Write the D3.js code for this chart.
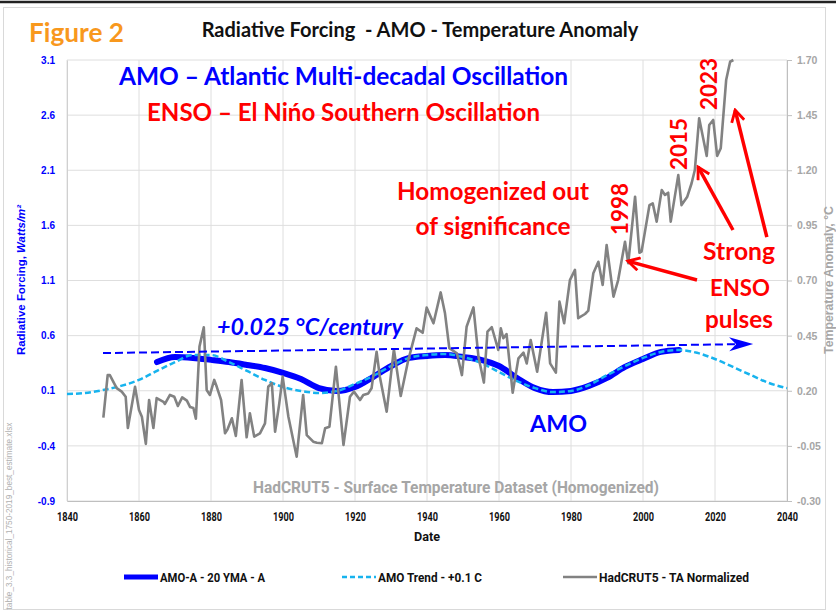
<!DOCTYPE html>
<html>
<head>
<meta charset="utf-8">
<script src="https://cdn.jsdelivr.net/npm/d3@7"></script>
<style>
body { margin: 0; background: #fff; }
svg { display: block; font-family: Lato, "Open Sans", sans-serif; }
</style>
</head>
<body>
<svg id="chart"></svg>
<script>
// ---- data ----
var xTicks = [1840, 1860, 1880, 1900, 1920, 1940, 1960, 1980, 2000, 2020, 2040];
var leftTicks = [-0.9, -0.4, 0.1, 0.6, 1.1, 1.6, 2.1, 2.6, 3.1];
var rightTicks = [-0.30, -0.05, 0.20, 0.45, 0.70, 0.95, 1.20, 1.45, 1.70];

// AMO-A - 20 YMA - A (°C, right axis)
var amoYears = [1865, 1870, 1875, 1880, 1885, 1890, 1895, 1900, 1905, 1910,
                1915, 1920, 1925, 1930, 1935, 1940, 1945, 1950, 1955, 1960,
                1965, 1970, 1975, 1980, 1985, 1990, 1995, 2000, 2005, 2010];
var amoValues = [0.330, 0.353, 0.349, 0.340, 0.330, 0.317, 0.303, 0.281, 0.253, 0.212,
                 0.199, 0.217, 0.262, 0.312, 0.349, 0.358, 0.362, 0.353, 0.340, 0.312,
                 0.258, 0.212, 0.194, 0.199, 0.222, 0.258, 0.308, 0.344, 0.376, 0.385];

// AMO Trend - +0.1 C
var trendYears = [1840, 1845, 1850, 1855, 1860, 1865, 1870, 1875, 1880, 1885,
                  1890, 1895, 1900, 1905, 1910, 1915, 1920, 1925, 1930, 1935,
                  1940, 1945, 1950, 1955, 1960, 1965, 1970, 1975, 1980, 1985,
                  1990, 1995, 2000, 2005, 2010, 2015, 2020, 2025, 2030, 2035, 2040];
var trendValues = [0.185, 0.190, 0.203, 0.222, 0.249, 0.290, 0.330, 0.362, 0.362, 0.330,
                   0.290, 0.249, 0.217, 0.199, 0.190, 0.199, 0.231, 0.267, 0.312, 0.349,
                   0.362, 0.367, 0.353, 0.326, 0.285, 0.244, 0.212, 0.194, 0.199, 0.226,
                   0.271, 0.312, 0.349, 0.376, 0.385, 0.372, 0.344, 0.308, 0.271, 0.235, 0.212];

// HadCRUT5 - TA Normalized
var hadYears = [1850.1, 1851.3, 1851.9, 1853.8, 1855.2, 1856.3, 1856.9, 1858.9, 1860.0, 1860.8,
                1861.9, 1862.8, 1864.0, 1864.9, 1866.8, 1867.2, 1868.6, 1869.8, 1870.8, 1872.0,
                1873.3, 1874.2, 1875.1, 1875.8, 1876.8, 1878.0, 1878.8, 1879.7, 1880.9, 1881.6,
                1882.8, 1883.9, 1884.6, 1885.8, 1886.9, 1888.5, 1889.9, 1890.8, 1892.0, 1893.6,
                1895.0, 1895.9, 1896.9, 1897.8, 1898.9, 1899.9, 1901.5, 1903.8, 1905.6, 1906.6,
                1908.4, 1909.4, 1910.8, 1911.7, 1912.9, 1914.7, 1916.8, 1918.6, 1919.7, 1921.4,
                1922.3, 1923.7, 1924.6, 1926.0, 1926.9, 1928.8, 1930.8, 1932.7, 1934.8, 1937.1,
                1938.8, 1939.9, 1941.8, 1943.8, 1945.0, 1946.2, 1948.3, 1949.7, 1951.0, 1952.9,
                1954.3, 1955.8, 1956.8, 1958.0, 1959.8, 1960.5, 1961.2, 1962.1, 1963.8, 1965.4,
                1966.8, 1967.7, 1968.8, 1970.6, 1973.1, 1974.2, 1975.8, 1976.8, 1978.1, 1979.7,
                1981.1, 1982.0, 1983.9, 1984.8, 1986.2, 1987.6, 1988.8, 1989.9, 1991.8, 1993.1,
                1995.0, 1995.9, 1997.8, 1999.0, 1999.6, 2001.8, 2002.7, 2003.8, 2005.2, 2006.1,
                2007.0, 2007.7, 2009.8, 2010.7, 2012.3, 2013.5, 2014.4, 2015.6, 2017.7, 2018.4,
                2019.5, 2020.6, 2021.6, 2023.1, 2024.2, 2025.1];
var hadValues = [0.078, 0.271, 0.271, 0.212, 0.196, 0.173, 0.031, 0.218, 0.113, 0.082,
                 -0.041, 0.158, 0.031, 0.167, 0.150, 0.140, 0.181, 0.173, 0.131, 0.170,
                 0.155, 0.126, 0.122, 0.073, 0.400, 0.488, 0.203, 0.181, 0.249, 0.218,
                 0.158, 0.007, 0.025, 0.075, -0.005, 0.249, -0.011, 0.098, -0.008, 0.007,
                 0.052, 0.218, 0.234, 0.014, 0.135, 0.264, 0.082, -0.099, 0.181, -0.001,
                 -0.031, -0.036, -0.038, 0.030, 0.037, 0.309, -0.046, 0.173, 0.196, 0.158,
                 0.181, 0.188, 0.211, 0.377, 0.264, 0.105, 0.388, 0.176, 0.339, 0.483,
                 0.463, 0.577, 0.506, 0.646, 0.551, 0.393, 0.370, 0.271, 0.490, 0.578,
                 0.354, 0.237, 0.468, 0.488, 0.385, 0.483, 0.438, 0.457, 0.191, 0.347,
                 0.373, 0.324, 0.430, 0.286, 0.554, 0.324, 0.282, 0.604, 0.506, 0.702,
                 0.748, 0.529, 0.548, 0.563, 0.733, 0.785, 0.680, 0.861, 0.627, 0.702,
                 0.876, 0.778, 1.080, 0.826, 0.831, 1.042, 1.050, 0.967, 1.110, 1.088,
                 1.098, 0.967, 1.178, 1.042, 1.080, 1.141, 1.201, 1.436, 1.265, 1.405,
                 1.428, 1.265, 1.300, 1.609, 1.692, 1.700];

// +0.025 °C/century trend arrow
var slopeYears = [1850, 2030.6];
var slopeValues = [0.371, 0.412];

// ENSO arrows: [fromYear, fromTA, toYear, toTA]
var ensoArrows = [[2015.0, 0.702, 1995.8, 0.788],
                  [2025.0, 0.929, 2015.3, 1.215],
                  [2034.4, 0.897, 2025.6, 1.473]];

var legendNames = ["AMO-A - 20 YMA - A", "AMO Trend - +0.1 C", "HadCRUT5 - TA Normalized"];

// ---- layout ----
var width = 836, height = 613;
var margin = {top: 60, right: 49, bottom: 112, left: 67};

var svg = d3.select("#chart").attr("width", width).attr("height", height);

var x = d3.scaleLinear().domain([1840, 2040]).range([margin.left, width - margin.right]);
var yL = d3.scaleLinear().domain([-0.9, 3.1]).range([height - margin.bottom, margin.top]);
var yR = d3.scaleLinear().domain([-0.30, 1.70]).range([height - margin.bottom, margin.top]);

var blue = "#0000ff", lightBlue = "#17b3ee", gray = "#828282", red = "#ff0000";
var narrow = "Liberation Sans Narrow, Roboto, sans-serif";

// scale a text's font so it spans w pixels
function fit(sel, w) {
  sel.each(function() {
    var t = d3.select(this);
    var fs = parseFloat(t.attr("font-size"));
    var len = this.getComputedTextLength();
    if (len > 0) t.attr("font-size", (fs * w / len).toFixed(2));
  });
  return sel;
}
// squeeze glyphs to w pixels, keeping the height (narrow look)
function squeeze(sel, w) {
  sel.attr("textLength", w).attr("lengthAdjust", "spacingAndGlyphs");
  return sel;
}

// frame
svg.append("rect").attr("x", 0).attr("y", 0).attr("width", width).attr("height", height).attr("fill", "#fff");
svg.append("rect").attr("x", 3.5).attr("y", 7.5).attr("width", 822).attr("height", 602)
   .attr("fill", "none").attr("stroke", "#d9d9d9");
svg.append("line").attr("x1", 0).attr("x2", width).attr("y1", 2).attr("y2", 2)
   .attr("stroke", "#222").attr("stroke-width", 2.5);

// grid
var grid = svg.append("g");
grid.selectAll(".h").data(leftTicks).enter().append("line")
    .attr("x1", x(1840)).attr("x2", x(2040))
    .attr("y1", function(d) { return yL(d); }).attr("y2", function(d) { return yL(d); })
    .attr("stroke", "#dedede");
grid.selectAll(".v").data(xTicks).enter().append("line")
    .attr("x1", function(d) { return x(d); }).attr("x2", function(d) { return x(d); })
    .attr("y1", yL(3.1)).attr("y2", yL(-0.9))
    .attr("stroke", "#dedede");

// axes
var axL = svg.append("g").attr("transform", "translate(" + margin.left + ",0)")
    .call(d3.axisLeft(yL).tickValues(leftTicks).tickSize(0).tickPadding(12)
          .tickFormat(function(d) { return d.toFixed(1); }));
axL.select(".domain").attr("stroke", "#d0d0d0");
axL.selectAll("text").attr("fill", blue).attr("font-weight", "bold")
   .attr("font-size", 10).attr("font-family", "Liberation Sans, Arial, sans-serif");

var axR = svg.append("g").attr("transform", "translate(" + (width - margin.right) + ",0)")
    .call(d3.axisRight(yR).tickValues(rightTicks).tickSize(5).tickPadding(5)
          .tickFormat(function(d) { return d.toFixed(2); }));
axR.select(".domain").attr("stroke", "#bfbfbf");
axR.selectAll("line").attr("stroke", "#bfbfbf");
axR.selectAll("text").attr("fill", "#a6a6a6").attr("font-weight", "bold")
   .attr("font-size", 10.5).attr("font-family", "Liberation Sans, Arial, sans-serif");

var axB = svg.append("g").attr("transform", "translate(0," + (height - margin.bottom) + ")")
    .call(d3.axisBottom(x).tickValues(xTicks).tickSize(0).tickPadding(11)
          .tickFormat(function(d) { return d; }));
axB.select(".domain").attr("stroke", "#bfbfbf");
axB.selectAll("text").attr("fill", "#111").attr("font-weight", "bold")
   .attr("font-size", 12).attr("font-family", narrow);
squeeze(axB.selectAll("text"), 21);

// series
var amoLine = d3.line().curve(d3.curveMonotoneX)
    .x(function(d, i) { return x(amoYears[i]); }).y(function(d) { return yR(d); });
svg.append("path").datum(amoValues).attr("d", amoLine)
   .attr("fill", "none").attr("stroke", blue).attr("stroke-width", 6)
   .attr("stroke-linecap", "round").attr("stroke-linejoin", "round");

var trendLine = d3.line().curve(d3.curveMonotoneX)
    .x(function(d, i) { return x(trendYears[i]); }).y(function(d) { return yR(d); });
svg.append("path").datum(trendValues).attr("d", trendLine)
   .attr("fill", "none").attr("stroke", lightBlue).attr("stroke-width", 2.5)
   .attr("stroke-dasharray", "6,3");

var hadLine = d3.line()
    .x(function(d, i) { return x(hadYears[i]); }).y(function(d) { return yR(d); });
svg.append("path").datum(hadValues).attr("d", hadLine)
   .attr("fill", "none").attr("stroke", gray).attr("stroke-width", 2.6)
   .attr("stroke-linejoin", "round");

// dashed slope arrow
var sx0 = x(slopeYears[0]), sy0 = yR(slopeValues[0]);
var sx1 = x(slopeYears[1]), sy1 = yR(slopeValues[1]);
var ang = Math.atan2(sy1 - sy0, sx1 - sx0);
svg.append("line").attr("x1", sx0).attr("y1", sy0)
   .attr("x2", sx1 - 18 * Math.cos(ang)).attr("y2", sy1 - 18 * Math.sin(ang))
   .attr("stroke", blue).attr("stroke-width", 2).attr("stroke-dasharray", "8,4");
svg.append("path")
   .attr("d", "M0,0 L-24,-7 L-17,0 L-24,7 Z")
   .attr("transform", "translate(" + sx1 + "," + sy1 + ") rotate(" + (ang * 180 / Math.PI) + ")")
   .attr("fill", blue);

// red ENSO arrows
svg.append("defs").append("marker").attr("id", "vhead")
   .attr("viewBox", "0 0 12 12").attr("refX", 10).attr("refY", 6)
   .attr("markerWidth", 4.4).attr("markerHeight", 4.4).attr("orient", "auto")
   .attr("markerUnits", "strokeWidth")
   .append("path").attr("d", "M1,1 L10,6 L1,11").attr("fill", "none")
   .attr("stroke", red).attr("stroke-width", 2.2);
svg.selectAll(".enso").data(ensoArrows).enter().append("line")
   .attr("x1", function(d) { return x(d[0]); }).attr("y1", function(d) { return yR(d[1]); })
   .attr("x2", function(d) { return x(d[2]); }).attr("y2", function(d) { return yR(d[3]); })
   .attr("stroke", red).attr("stroke-width", 3.5).attr("marker-end", "url(#vhead)");

// ---- texts ----
function label(txt, cx, by, size, color, w, opts) {
  opts = opts || {};
  var t = svg.append("text").attr("x", cx).attr("y", by).attr("text-anchor", opts.anchor || "middle")
     .attr("font-size", size).attr("font-weight", opts.weight || "bold")
     .attr("fill", color).text(txt);
  if (opts.italic) t.attr("font-style", "italic");
  if (opts.family) t.attr("font-family", opts.family);
  if (w && opts.squeeze) squeeze(t, w);
  else if (w) fit(t, w);
  return t;
}

label("Figure 2", 76.5, 42, 24, "#f8981d", 95);
label("Radiative Forcing  - AMO - Temperature Anomaly", 420, 37, 17, "#111", 432).style("white-space", "pre");
label("AMO \u2013 Atlantic Multi-decadal Oscillation", 343.5, 85, 22, blue, 449);
label("ENSO \u2013 El Ni\u0144o Southern Oscillation", 343.5, 121, 22, red, 393);
label("Homogenized out", 493, 200, 21, red, 192);
label("of significance", 493, 235, 21, red, 155);
label("Strong", 739, 260, 24, red, 72);
label("ENSO", 740, 296, 24, red, 60);
label("pulses", 739, 328, 24, red, 68);
label("+0.025 \u00B0C/century", 310, 335, 20, blue, 186, {italic: true});
label("AMO", 558.5, 432, 22, blue, 57);
label("HadCRUT5 - Surface Temperature Dataset (Homogenized)", 456, 493, 16, "#a6a6a6", 406,
      {family: narrow, squeeze: true});
label("Date", 427, 541, 12, "#111", 26, {family: narrow, squeeze: true});

// rotated year labels
[["1998", 619, 209], ["2015", 678, 144], ["2023", 708, 84]].forEach(function(d) {
  var t = svg.append("text").attr("transform", "translate(" + d[1] + "," + d[2] + ") rotate(-90)")
     .attr("text-anchor", "middle").attr("dominant-baseline", "central")
     .attr("font-size", 24).attr("font-weight", "bold").attr("fill", red).text(d[0]);
  fit(t, 52);
});

// axis titles
var lt = svg.append("text").attr("transform", "translate(25,280) rotate(-90)")
   .attr("text-anchor", "middle").attr("font-size", 11).attr("font-weight", "bold")
   .attr("fill", blue).attr("font-family", "Liberation Sans, Arial, sans-serif");
lt.append("tspan").text("Radiative Forcing, ");
lt.append("tspan").attr("font-style", "italic").text("Watts/m\u00B2");
fit(lt, 150);

var rt = svg.append("text").attr("transform", "translate(833,280) rotate(-90)")
   .attr("text-anchor", "middle").attr("font-size", 11).attr("font-weight", "bold")
   .attr("fill", "#a6a6a6").attr("font-family", "Liberation Sans, Arial, sans-serif")
   .text("Temperature Anomaly, \u00B0C");
fit(rt, 148);

var src = svg.append("text").attr("transform", "translate(12,516) rotate(-90)")
   .attr("text-anchor", "middle").attr("font-size", 8).attr("fill", "#b0b0b0")
   .attr("font-family", "Liberation Sans, Arial, sans-serif")
   .text("table_3.3_historical_1750-2019_best_estimate.xlsx");
fit(src, 187);

// legend
var legX = [124, 342, 563];
var leg = svg.append("g");
legendNames.forEach(function(name, i) {
  var g = leg.append("g").attr("transform", "translate(" + legX[i] + ",577)");
  var ln = g.append("line").attr("x1", 0).attr("x2", 34).attr("y1", 0).attr("y2", 0);
  if (i == 0) ln.attr("stroke", blue).attr("stroke-width", 5);
  if (i == 1) ln.attr("stroke", lightBlue).attr("stroke-width", 2.5).attr("stroke-dasharray", "5,3");
  if (i == 2) ln.attr("stroke", gray).attr("stroke-width", 2.5);
  var t = g.append("text").attr("x", 36).attr("y", 4.5).attr("font-size", 12)
     .attr("font-weight", "bold").attr("fill", "#111")
     .attr("font-family", narrow).text(name);
  squeeze(t, [105, 104, 150][i]);
});
</script>
</body>
</html>
